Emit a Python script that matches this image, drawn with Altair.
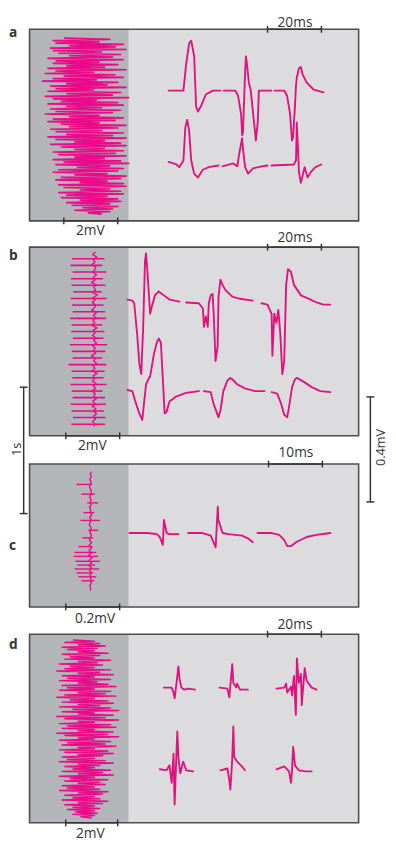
import altair as alt
import pandas as pd

# ---------------- data ----------------
# Left columns: continuous EMG shown as a raster (time runs downward), samples in mV
raster_a = [
    -0.9, 0.8, -1.3, 0.4, -1.2, 1.3, -0.7, 1.0, -1.4, 1.4,
    -1.3, 0.5, -1.1, 1.2, -0.7, 0.9, -1.5, 1.3, -1.2, 0.4,
    -1.3, 1.1, -0.8, 0.6, -1.5, 1.4, -1.2, 0.2, -1.6, 1.0,
    -0.9, 1.3, -1.3, 0.3, -1.7, 1.1, -0.8, 0.7, -1.4, 1.4,
    -1.2, 0.2, -1.5, 1.2, -0.8, 0.9, -1.6, 1.5, -1.3, 0.3,
    -1.0, 1.1, -1.5, 1.3, -0.8, 0.5, -1.4, 1.2, -1.2, 0.9,
    -1.6, 0.4, -0.7, 1.3, -1.3, 1.0, -1.5, 0.4, -1.0, 1.4,
    -0.7, 1.1, -1.4, 0.5, -1.2, 1.3, -0.8, 0.9, -1.5, 1.4,
    -1.2, 0.6, -0.5, 1.2, -1.4, 1.4, -1.0, 0.6, -0.5, 1.3,
    -1.3, 1.0, -1.1, 1.4, -0.5, 0.6, -1.3, 1.2, -0.9, 1.5,
    -1.2, 0.8, -0.4, 1.3, -1.1, 1.1, -1.3, 0.7, -0.5, 1.4,
    -1.0, 1.2, -1.2, 0.7, -0.3, 1.3, -1.1, 1.4, -0.9, 0.8,
    -0.3, 1.2, -1.1, 1.3, -0.8, 0.7, -1.0, 1.1, -0.3, 1.2,
    -0.8, 0.8, -0.6, 1.1, -0.2, 0.9, -0.5, 0.8, 0.0, 0.5,
]
raster_d = [
    -0.5, 0.3, -0.8, 0.5, -0.3, 0.7, -0.9, 0.4, -0.7, 0.3, -0.3, 0.8, -0.9, 0.5, -0.6, 0.3, -0.8, 0.9, -0.3, 0.4,
    -1.0, 0.6, -0.6, 0.3, -0.8, 0.9, -1.1, 0.5, -0.3, 1.0, -0.9, 0.3, -0.7, 0.9, -1.0, 0.4, -0.3, 0.8, -0.9, 1.1,
    -0.7, 0.3, -1.0, 0.9, -0.3, 0.7, -0.8, 1.1, -1.1, 0.3, -0.6, 0.8, -0.9, 1.0, -0.3, 0.5, -1.0, 0.9, -0.5, 1.2,
    -0.9, 0.3, -0.3, 1.0, -1.1, 0.7, -0.8, 1.2, -0.3, 0.3, -1.0, 0.9, -0.7, 1.1, -0.9, 0.3, -0.3, 1.0, -1.1, 0.8,
    -0.8, 1.2, -0.3, 0.3, -1.0, 0.9, -0.7, 0.7, -0.9, 1.1, -0.3, 0.3, -1.0, 0.8, -0.8, 1.0, -0.3, 0.6, -0.9, 0.3,
    -0.7, 0.7, -1.0, 1.0, -0.3, 0.5, -0.8, 0.3, -0.5, 0.9, -0.9, 0.6, -0.3, 1.0, -1.0, 0.3, -0.6, 0.8, -0.8, 0.5,
    -0.3, 0.7, -0.9, 0.3, -0.7, 0.5, -1.0, 0.8, -0.3, 0.6, -0.8, 0.3, -0.5, 0.5, -0.9, 0.8, -0.3, 0.6, -0.8, 0.3,
    -0.5, 0.5, -0.7, 0.3, -0.4, 0.4, -0.5, 0.3, -0.2, 0.2,
]
# panel b: baseline trace (one sample every 20 ms) and the motor-unit discharges (ms, mV)
b_base = [
    0.05, -0.06, 0.10, -0.04, 0.03, -0.08, 0.06, 0.02, -0.05, 0.09,
    -0.03, 0.04, -0.10, 0.07, -0.02, 0.05, -0.06, 0.12, -0.04, 0.03,
    -0.07, 0.05, 0.01, -0.09, 0.08, -0.03, 0.06, -0.05, 0.02, -0.08,
    0.10, -0.04, 0.03, -0.06, 0.07, -0.02, 0.09, -0.07, 0.04, -0.03,
    0.06, -0.10, 0.05, -0.02, 0.08, -0.05, 0.03, -0.07, 0.11, -0.04,
    0.02, -0.06, 0.07, -0.03, 0.05, -0.09, 0.04, -0.02, 0.08, -0.05,
    0.03, -0.07, 0.06, -0.04, 0.09, -0.03, 0.05, -0.06, 0.02, 0.0,
]
b_spike_ms = [54, 106, 158, 211, 263, 315, 368, 420, 472, 525, 577, 629, 682,
              734, 786, 838, 891, 943, 995, 1048, 1100, 1152, 1205, 1257, 1309, 1362]
b_spike_lo = [-0.82, -0.88, -0.80, -0.86, -0.84, -0.78, -0.87, -0.82, -0.80, -0.89, -0.84, -0.85, -0.79,
              -0.90, -0.83, -0.80, -0.95, -0.84, -0.81, -0.88, -0.83, -0.80, -0.87, -0.84, -0.79, -0.85]
b_spike_hi = [0.38, 0.30, 0.45, 0.33, 0.42, 0.28, 0.46, 0.35, 0.40, 0.44, 0.30, 0.38, 0.34,
              0.48, 0.41, 0.30, 0.45, 0.39, 0.35, 0.46, 0.31, 0.40, 0.44, 0.36, 0.42, 0.40]
# panel c: baseline trace (one sample every 20 ms) and the discharges (ms, mV)
c_base = [
    0.003, 0.0, 0.004, -0.002, 0.003, 0.0, -0.003, 0.002, 0.004, 0.0,
    -0.002, 0.003, 0.0, 0.004, -0.003, 0.002, 0.0, 0.005, -0.002, 0.003,
    0.0, -0.004, 0.003, 0.001, -0.002, 0.004, 0.0, -0.003, 0.005, -0.004,
    0.006, -0.005, 0.004, -0.006, 0.007, -0.004, 0.005, -0.006, 0.004, -0.003,
    0.005, -0.002, 0.003, 0.0, 0.004, -0.002, 0.002, 0.0,
]
c_spike_ms = [100, 177, 246, 323, 385, 462, 523, 592, 638, 669, 708, 738, 769, 800, 831, 862]
c_spike_lo = [-0.051, -0.033, -0.011, -0.025, -0.036, -0.007, -0.029, -0.044,
              -0.058, -0.062, -0.055, -0.047, -0.058, -0.051, -0.044, -0.033]
c_spike_hi = [0.007, 0.018, 0.029, 0.015, 0.036, 0.029, 0.011, 0.007,
              0.022, 0.029, 0.036, 0.018, 0.033, 0.011, 0.022, 0.015]

# Right columns: single sweeps, time in ms and voltage in mV, three segments each
a_top_t = [
    [0, 2.9, 4.0, 5.5, 6.5, 7.6, 8.4, 9.5, 10.2, 10.9, 12.0, 13.8, 16.4, 19.3],
    [20.4, 24.7, 25.8, 26.9, 27.3, 27.6, 28.4, 28.7, 29.1, 29.8, 30.5, 31.3, 32.4, 33.1, 33.5, 35.6, 38.2],
    [39.3, 42.9, 44.0, 45.1, 45.8, 46.2, 46.9, 47.3, 47.6, 48.4, 49.1, 49.8, 51.3, 53.8, 57.5],
]
a_top_v = [
    [0, 0, 0, 0, 0.10, 0.18, 0.19, 0.13, -0.06, -0.08, -0.06, -0.015, 0, 0],
    [0, 0, -0.02, -0.09, -0.17, -0.16, 0.07, 0.13, 0.10, 0.03, 0, -0.08, -0.19, -0.12, 0, 0, 0],
    [0, 0, -0.02, -0.09, -0.19, -0.18, -0.06, 0.02, 0.05, 0.085, 0.09, 0.06, 0.03, 0.004, -0.007],
]
a_bot_t = [
    [0, 2.9, 4.0, 5.5, 6.2, 6.9, 7.6, 8.4, 9.5, 10.9, 12.7, 14.9, 18.5],
    [20.0, 24.0, 25.5, 26.2, 27.3, 27.6, 28.4, 29.5, 31.3, 34.5, 36.7],
    [38.2, 46.5, 47.3, 47.6, 48.4, 49.1, 50.5, 51.6, 52.7, 54.5, 56.7],
]
a_bot_v = [
    [0.01, 0, -0.01, 0.015, 0.14, 0.17, 0.13, 0.015, -0.035, -0.05, -0.02, -0.01, -0.004],
    [-0.007, 0.004, -0.007, 0.04, 0.10, 0.06, -0.01, -0.035, -0.015, -0.007, -0.004],
    [-0.004, 0, 0.015, 0.16, -0.03, -0.07, -0.01, -0.05, -0.03, -0.01, 0],
]
b_top_t = [
    [0, 1.8, 2.5, 3.6, 4.4, 5.1, 5.8, 6.5, 6.9, 7.6, 8.4, 9.1, 10.2, 11.6, 13.5, 15.6, 19.3],
    [21.8, 26.5, 28.0, 28.4, 29.1, 29.8, 30.2, 30.9, 31.6, 32.0, 32.7, 33.5, 33.8, 34.5, 35.3, 36.4, 38.9, 41.8, 46.5],
    [49.8, 52.0, 53.5, 53.8, 54.5, 55.3, 56.0, 56.7, 57.5, 58.2, 58.9, 59.6, 60.7, 61.8, 64.4, 68.0, 70.2, 72.7, 75.3],
]
b_top_v = [
    [0.004, 0, -0.01, -0.13, -0.24, -0.28, -0.11, 0.15, 0.18, 0.08, -0.05, -0.02, 0.02, 0.035, 0.02, 0.004, -0.004],
    [-0.007, -0.01, -0.03, -0.10, -0.06, -0.10, -0.01, 0.02, 0.025, -0.05, -0.23, -0.17, 0.015, 0.08, 0.06, 0.04, 0.015, 0.007, 0],
    [-0.01, -0.015, -0.05, -0.21, -0.05, -0.085, -0.035, -0.12, -0.28, -0.23, 0.06, 0.12, 0.11, 0.06, 0.02, 0.004, -0.007, -0.015, -0.015],
]
b_bot_t = [
    [0, 1.8, 2.9, 4.4, 5.5, 6.2, 6.9, 8.0, 8.4, 9.8, 10.9, 11.6, 12.4, 13.1, 13.8, 14.5, 15.6, 18.2, 21.8, 26.5],
    [28.4, 30.9, 32.0, 33.8, 34.5, 35.6, 37.1, 38.2, 38.9, 40.7, 43.6, 47.3, 50.9],
    [53.5, 55.6, 57.1, 58.2, 59.3, 60.0, 61.1, 62.2, 62.9, 65.5, 68.4, 71.6, 75.3],
]
b_bot_v = [
    [0.004, 0, -0.04, -0.085, -0.11, -0.04, 0.026, 0.05, 0.055, 0.14, 0.185, 0.20, 0.185, 0.05, -0.085, -0.08, -0.04, -0.02, -0.007, 0],
    [0, -0.004, -0.05, -0.10, -0.075, 0, 0.04, 0.05, 0.045, 0.026, 0.01, 0, 0],
    [-0.004, -0.01, -0.05, -0.09, -0.10, -0.06, 0.015, 0.045, 0.05, 0.035, 0.015, 0, -0.004],
]
c_t = [
    [0, 3.3, 5.1, 5.6, 6.2, 6.4, 6.7, 6.9, 7.5, 9.1],
    [10.9, 13.6, 15.1, 16.0, 16.4, 16.5, 17.3, 18.4, 20.9, 22.0, 22.9],
    [23.8, 26.4, 27.8, 28.7, 29.3, 30.0, 30.9, 32.9, 34.7, 37.3],
]
c_v = [
    [0, 0, -0.004, -0.015, -0.045, 0.05, 0.02, 0, -0.004, -0.004],
    [0, 0, -0.01, -0.055, 0.10, 0.05, 0, -0.004, -0.01, -0.02, -0.035],
    [0, 0, -0.007, -0.026, -0.05, -0.05, -0.035, -0.015, -0.007, 0],
]
d_top_t = [
    [1.5, 4.4, 5.1, 5.5, 6.2, 6.9, 7.3, 8.0, 9.1, 10.5, 13.1],
    [22.2, 25.1, 25.8, 26.9, 27.3, 28.4, 28.7, 29.8, 32.7],
    [43.3, 46.2, 46.9, 47.3, 48.7, 49.1, 49.8, 50.5, 50.9, 51.6, 52.4, 52.7, 53.8, 54.5, 56.4, 58.2],
]
d_top_v = [
    [0.004, 0.004, -0.015, -0.037, 0.02, 0.085, 0.04, 0.004, -0.004, 0, -0.004],
    [0.004, 0, -0.033, 0.093, 0.022, 0.004, 0.019, -0.004, -0.004],
    [0, 0.004, 0.019, -0.015, 0.007, -0.026, 0.048, -0.10, 0.115, 0.022, 0.056, -0.063, 0.078, 0.03, 0.004, -0.004],
]
d_bot_t = [
    [0, 2.5, 3.6, 4.4, 5.1, 5.5, 6.2, 6.5, 6.9, 7.6, 8.7, 9.8, 12.4],
    [22.5, 25.1, 25.8, 26.2, 26.9, 27.3, 27.6, 28.7, 30.5, 31.6],
    [43.3, 46.2, 48.0, 48.7, 49.1, 49.5, 50.2, 51.6, 54.2, 56.4],
]
d_bot_v = [
    [0.004, 0, 0.019, -0.048, 0.063, -0.13, 0.07, 0.148, 0.052, -0.011, 0.033, 0, -0.004],
    [0, 0.007, -0.037, -0.074, 0.044, 0.167, 0.052, 0.033, 0.015, 0],
    [0.004, 0.015, -0.004, -0.048, 0, 0.089, 0.019, 0, -0.004, -0.004],
]

panel_letters = ["a", "b", "c", "d"]
top_bar_labels = ["20ms", "20ms", "10ms", "20ms"]
bottom_bar_labels = ["2mV", "2mV", "0.2mV", "2mV"]
vertical_bar_labels = ["1s", "0.4mV"]

# ---------------- layout & style ----------------
OFF = 8
W, H = 388, 841
Y0, YSPAN = 2.0, 847.0          # figure rows 2..849 are fitted into the 841px plot height
SY = H / YSPAN
MAG = "#e0127e"
RAST = "#ea0a8a"
DARK = "#b4b5b9"
LIGHT = "#dcdcdf"
FONT = "Open Sans"
PX_PER_S = 130.0  # the "1s" bar


def Y(v):
    return (v - Y0) * SY


fx = alt.Scale(domain=[OFF, OFF + W], range=[0, W], nice=False, zero=False)
fy = alt.Scale(domain=[Y0, Y0 + YSPAN], range=[0, H], nice=False, zero=False)

panel_top = [15, 239, 462, 637]
panel_bot = [212, 433, 609, 831]
BOX_L, BOX_R, SPLIT = 30, 366, 131

layers = []

bg_rows = []
for t, b in zip(panel_top, panel_bot):
    bg_rows.append({"x": BOX_L, "x2": BOX_R, "y": t, "y2": b, "fill": LIGHT})
    bg_rows.append({"x": BOX_L, "x2": SPLIT, "y": t, "y2": b, "fill": DARK})
layers.append(
    alt.Chart(pd.DataFrame(bg_rows)).mark_rect().encode(
        x=alt.X("x:Q", scale=fx, axis=None), x2="x2:Q",
        y=alt.Y("y:Q", scale=fy, axis=None), y2="y2:Q",
        color=alt.Color("fill:N", scale=None),
    )
)


def volt_scale(zero_px, px_per_mv, span):
    return alt.Scale(domain=[-span, span],
                     range=[zero_px - OFF - span * px_per_mv, zero_px - OFF + span * px_per_mv],
                     nice=False, zero=False)


def raster_zigzag(vals, zero_px, px_per_mv, top, bottom, width):
    df = pd.DataFrame({"i": list(range(len(vals))), "v": vals})
    ys = alt.Scale(domain=[0, len(vals) - 1], range=[Y(top), Y(bottom)], nice=False, zero=False)
    return alt.Chart(df).mark_line(color=RAST, strokeWidth=width, strokeJoin="round").encode(
        x=alt.X("v:Q", scale=volt_scale(zero_px, px_per_mv, 3.0), axis=None),
        y=alt.Y("i:Q", scale=ys, axis=None),
        order=alt.Order("i:Q"),
    )


def raster_split(base, step_ms, sp_ms, sp_lo, sp_hi, zero_px, px_per_mv, top, width_base, width_spike):
    span_ms = 2000.0
    ys = alt.Scale(domain=[0, span_ms], range=[Y(top), Y(top + span_ms * PX_PER_S / 1000.0)],
                   nice=False, zero=False)
    xs = volt_scale(zero_px, px_per_mv, 3.0)
    bdf = pd.DataFrame({"ms": [k * step_ms for k in range(len(base))], "v": base})
    sdf = pd.DataFrame({"ms": sp_ms, "lo": sp_lo, "hi": sp_hi})
    line = alt.Chart(bdf).mark_line(color=RAST, strokeWidth=width_base, strokeJoin="round").encode(
        x=alt.X("v:Q", scale=xs, axis=None),
        y=alt.Y("ms:Q", scale=ys, axis=None),
        order=alt.Order("ms:Q"),
    )
    spikes = alt.Chart(sdf).mark_rule(color=RAST, strokeWidth=width_spike).encode(
        x=alt.X("lo:Q", scale=xs, axis=None), x2="hi:Q",
        y=alt.Y("ms:Q", scale=ys, axis=None),
    )
    return [spikes, line]


def trace_layer(ts, vs, x0, base, px_per_ms, px_per_mv=270):
    rows = []
    for s, (tt, vv) in enumerate(zip(ts, vs)):
        for i, (t, v) in enumerate(zip(tt, vv)):
            rows.append({"seg": s, "i": i, "t": t, "v": v})
    df = pd.DataFrame(rows)
    xs = alt.Scale(domain=[0, 100], range=[x0 - OFF, x0 - OFF + 100 * px_per_ms], nice=False, zero=False)
    ys = alt.Scale(domain=[-1, 1], range=[Y(base + px_per_mv), Y(base - px_per_mv)], nice=False, zero=False)
    return alt.Chart(df).mark_line(color=MAG, strokeWidth=1.9, strokeJoin="round", strokeCap="round").encode(
        x=alt.X("t:Q", scale=xs, axis=None),
        y=alt.Y("v:Q", scale=ys, axis=None),
        detail="seg:N",
        order=alt.Order("i:Q"),
    )


layers.append(raster_zigzag(raster_a, 90, 27.5, 24, 205, 1.7))
layers += raster_split(b_base, 20, b_spike_ms, b_spike_lo, b_spike_hi, 96, 27.5, 244, 1.4, 1.6)
layers += raster_split(c_base, 20, c_spike_ms, c_spike_lo, c_spike_hi, 92, 275, 470, 1.4, 1.4)
layers.append(raster_zigzag(raster_d, 88, 27.5, 643, 826, 1.5))

layers.append(trace_layer(a_top_t, a_top_v, 172, 78, 2.75))
layers.append(trace_layer(a_bot_t, a_bot_v, 172, 154, 2.75))
layers.append(trace_layer(b_top_t, b_top_v, 130, 294, 2.75))
layers.append(trace_layer(b_bot_t, b_bot_v, 130, 387, 2.75))
layers.append(trace_layer(c_t, c_v, 132, 533, 5.5))
layers.append(trace_layer(d_top_t, d_top_v, 163, 693, 2.75))
layers.append(trace_layer(d_bot_t, d_bot_v, 163, 777, 2.75))

box = pd.DataFrame({"x": [BOX_L] * 4, "x2": [BOX_R] * 4, "y": panel_top, "y2": panel_bot})
layers.append(
    alt.Chart(box).mark_rect(fillOpacity=0, stroke="#4d4d4d", strokeWidth=1.6).encode(
        x=alt.X("x:Q", scale=fx, axis=None), x2="x2:Q",
        y=alt.Y("y:Q", scale=fy, axis=None), y2="y2:Q",
    )
)

rule_rows = []
top_bar_x = [(273, 328), (273, 328), (274, 329), (273, 328)]
bot_bar_x = [(65, 120), (67, 122), (67, 122), (67, 120)]
for (x1, x2), y in zip(top_bar_x, panel_top):
    rule_rows += [{"x": x1, "x2": x2, "y": y, "y2": y},
                  {"x": x1, "x2": x1, "y": y - 3.5, "y2": y + 3.5},
                  {"x": x2, "x2": x2, "y": y - 3.5, "y2": y + 3.5}]
for (x1, x2), y in zip(bot_bar_x, panel_bot):
    rule_rows += [{"x": x1, "x2": x2, "y": y, "y2": y},
                  {"x": x1, "x2": x1, "y": y - 3.5, "y2": y + 3.5},
                  {"x": x2, "x2": x2, "y": y - 3.5, "y2": y + 3.5}]
for xv, y1, y2 in [(24, 383, 513), (378, 393, 501)]:
    rule_rows += [{"x": xv, "x2": xv, "y": y1, "y2": y2},
                  {"x": xv - 4, "x2": xv + 4, "y": y1, "y2": y1},
                  {"x": xv - 4, "x2": xv + 4, "y": y2, "y2": y2}]
layers.append(
    alt.Chart(pd.DataFrame(rule_rows)).mark_rule(color="#333333", strokeWidth=1.5).encode(
        x=alt.X("x:Q", scale=fx, axis=None), x2="x2:Q",
        y=alt.Y("y:Q", scale=fy, axis=None), y2="y2:Q",
    )
)

letters = pd.DataFrame({"label": panel_letters, "x": [9, 9, 9, 9], "y": [23, 252, 550, 652]})
layers.append(
    alt.Chart(letters).mark_text(font=FONT, fontSize=14, fontWeight="bold", align="left",
                                 baseline="alphabetic", color="#333333").encode(
        x=alt.X("x:Q", scale=fx, axis=None), y=alt.Y("y:Q", scale=fy, axis=None), text="label:N")
)

bar_text = pd.DataFrame({
    "label": top_bar_labels + bottom_bar_labels,
    "x": [301, 301, 302, 301, 92, 94, 97, 92],
    "y": [12.5, 234, 455, 632, 227, 448, 625, 847],
})
layers.append(
    alt.Chart(bar_text).mark_text(font=FONT, fontSize=14, align="center", baseline="alphabetic",
                                  color="#333333").encode(
        x=alt.X("x:Q", scale=fx, axis=None), y=alt.Y("y:Q", scale=fy, axis=None), text="label:N")
)
vert_text = pd.DataFrame({"label": vertical_bar_labels, "x": [17.5, 389], "y": [447, 445]})
layers.append(
    alt.Chart(vert_text).mark_text(font=FONT, fontSize=13, align="center", baseline="middle",
                                   angle=270, color="#333333").encode(
        x=alt.X("x:Q", scale=fx, axis=None), y=alt.Y("y:Q", scale=fy, axis=None), text="label:N")
)

chart = alt.layer(*layers).resolve_scale(x="independent", y="independent").properties(
    width=W, height=H, autosize=alt.AutoSizeParams(type="none"), padding=0,
    background="white",
).configure_view(stroke=None)

chart.save("out.html", embed_options={"renderer": "svg", "actions": False})
